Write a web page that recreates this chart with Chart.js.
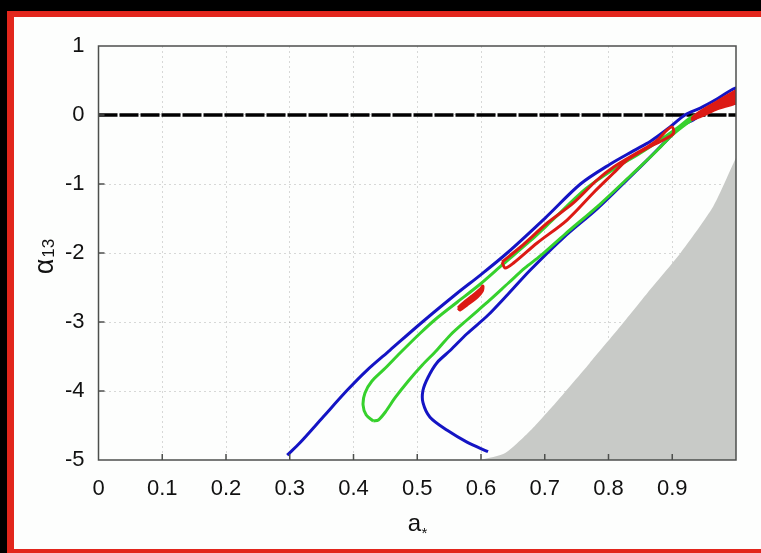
<!DOCTYPE html>
<html><head><meta charset="utf-8">
<script src="https://cdn.jsdelivr.net/npm/chart.js@4.4.1/dist/chart.umd.min.js"></script>
<style>html,body{margin:0;padding:0;background:#fdfefd;overflow:hidden}canvas{display:block}</style>
</head><body>
<canvas id="c" width="761" height="553"></canvas>
<script>
const xTickLabels = ['0','0.1','0.2','0.3','0.4','0.5','0.6','0.7','0.8','0.9',''];
const yTickLabels = ['-5','-4','-3','-2','-1','0','1'];
const xTitleMain = 'a', xTitleSub = '*';
const yTitleMain = '\u03B1', yTitleSub = '13';

const zeroLine = [[0,0],[1,0]];
const grayEdge = [[0.600,-5.00],[0.638,-4.90],[0.680,-4.55],[0.721,-4.13],[0.770,-3.60],[0.818,-3.07],[0.861,-2.58],[0.913,-2.00],[0.964,-1.33],[0.996,-0.70],[1.000,-0.62]];
const blueContour = [
 [0.296,-4.93],[0.316,-4.75],[0.352,-4.38],[0.390,-3.99],[0.421,-3.70],[0.457,-3.41],[0.508,-3.00],
 [0.563,-2.58],[0.599,-2.32],[0.641,-2.00],[0.701,-1.49],[0.756,-1.00],[0.803,-0.71],[0.839,-0.52],
 [0.866,-0.38],[0.893,-0.20],[0.920,0.00],[0.944,0.10],[0.968,0.22],[0.999,0.39],[1.03,0.45],
 [1.03,0.20],[0.999,0.17],[0.964,0.10],[0.933,-0.07],[0.913,-0.17],[0.892,-0.36],[0.861,-0.65],
 [0.829,-0.94],[0.782,-1.36],[0.729,-1.78],[0.677,-2.25],[0.643,-2.59],[0.610,-2.91],[0.578,-3.17],
 [0.552,-3.41],[0.531,-3.59],[0.517,-3.80],[0.509,-3.99],[0.509,-4.17],[0.520,-4.38],[0.547,-4.57],
 [0.578,-4.74],[0.611,-4.88]];
const greenContour = [
 [0.431,-4.435],[0.420,-4.348],[0.415,-4.203],[0.418,-4.029],[0.429,-3.855],[0.450,-3.667],[0.473,-3.449],
 [0.505,-3.159],[0.531,-2.942],[0.563,-2.710],[0.599,-2.449],[0.635,-2.159],[0.677,-1.826],[0.709,-1.551],
 [0.764,-1.072],[0.811,-0.768],[0.850,-0.551],[0.881,-0.362],[0.908,-0.188],[0.928,-0.043],[0.952,0.072],
 [0.975,0.188],[1.01,0.333],[1.01,0.232],[0.972,0.130],[0.947,0.043],[0.928,-0.087],[0.902,-0.275],
 [0.869,-0.580],[0.834,-0.884],[0.787,-1.290],[0.732,-1.725],[0.693,-2.043],[0.669,-2.217],[0.643,-2.435],
 [0.614,-2.681],[0.578,-2.971],[0.552,-3.188],[0.531,-3.406],[0.508,-3.623],[0.486,-3.855],[0.465,-4.101],
 [0.450,-4.304],[0.439,-4.420],[0.431,-4.435]];
const redLoop = [
 [0.633,-2.130],[0.662,-1.913],[0.704,-1.565],[0.745,-1.275],[0.782,-0.942],[0.808,-0.754],[0.839,-0.580],
 [0.861,-0.464],[0.877,-0.362],[0.892,-0.217],[0.900,-0.174],[0.902,-0.261],[0.892,-0.333],[0.870,-0.435],
 [0.850,-0.536],[0.829,-0.652],[0.808,-0.841],[0.776,-1.130],[0.735,-1.522],[0.688,-1.855],[0.651,-2.145],
 [0.638,-2.217],[0.633,-2.130]];
const redBlob = [
 [0.564,-2.797],[0.572,-2.725],[0.586,-2.623],[0.599,-2.522],[0.603,-2.478],[0.602,-2.551],[0.594,-2.638],
 [0.578,-2.754],[0.567,-2.826],[0.564,-2.797]];
const redTip = [
 [0.931,-0.029],[0.944,0.058],[0.968,0.188],[1.01,0.391],[1.01,0.217],[0.968,0.072],[0.944,-0.029],
 [0.931,-0.072],[0.931,-0.029]];

const pts = a => a.map(([x,y]) => ({x,y}));
const FONT = "'Liberation Sans', Arial, Helvetica, sans-serif";

const framePlugin = {
  id: 'frame',
  beforeDraw(chart) {
    const ctx = chart.ctx, W = chart.canvas.width, H = chart.canvas.height;
    ctx.save();
    ctx.fillStyle = '#000'; ctx.fillRect(0, 0, W, H);
    ctx.fillStyle = '#e2261c'; ctx.fillRect(7, 11, W - 7, H - 11);
    ctx.fillStyle = '#fdfefd'; ctx.fillRect(14, 17, W, H - 17 - 4);
    ctx.restore();
  },
  afterDatasetsDraw(chart) {
    const ctx = chart.ctx, a = chart.chartArea;
    const xs = chart.scales.x, ys = chart.scales.y;
    ctx.save();
    ctx.strokeStyle = '#4d4f4d'; ctx.lineWidth = 1.5;
    ctx.beginPath();
    xs.ticks.forEach(t => {
      if (t.value <= 0.001 || t.value >= 0.999) return;
      const px = xs.getPixelForValue(t.value);
      ctx.moveTo(px, a.bottom); ctx.lineTo(px, a.bottom - 6);
    });
    ys.ticks.forEach(t => {
      if (t.value <= -4.999 || t.value >= 0.999) return;
      const py = ys.getPixelForValue(t.value);
      ctx.moveTo(a.left, py); ctx.lineTo(a.left + 6, py);
    });
    ctx.stroke();
    ctx.strokeRect(a.left, a.top, a.right - a.left, a.bottom - a.top);
    ctx.restore();
  },
  afterDraw(chart) {
    const ctx = chart.ctx, a = chart.chartArea;
    ctx.save();
    ctx.fillStyle = '#111';
    ctx.textBaseline = 'alphabetic';
    // x title: "a" with small low asterisk
    ctx.font = '24px ' + FONT;
    const wa = ctx.measureText(xTitleMain).width;
    ctx.font = '15px ' + FONT;
    const ws = ctx.measureText(xTitleSub).width;
    const cx = (a.left + a.right) / 2;
    const x0 = cx - (wa + ws) / 2;
    ctx.font = '24px ' + FONT;
    ctx.fillText(xTitleMain, x0, 531);
    ctx.font = '15px ' + FONT;
    ctx.fillText(xTitleSub, x0 + wa + 0.5, 538);
    // y title: alpha with subscript 13, rotated
    ctx.translate(53, (a.top + a.bottom) / 2);
    ctx.rotate(-Math.PI / 2);
    ctx.font = '27px ' + FONT;
    const wal = ctx.measureText(yTitleMain).width;
    ctx.font = '17px ' + FONT;
    const w13 = ctx.measureText(yTitleSub).width;
    const t0 = -(wal + w13) / 2 - 4;
    ctx.font = '27px ' + FONT;
    ctx.fillText(yTitleMain, t0, 0);
    ctx.font = '17px ' + FONT;
    ctx.fillText(yTitleSub, t0 + wal + 1, 1);
    ctx.restore();
  }
};

const gridColor = edgeVals => (c) => {
  const v = c.tick ? c.tick.value : null;
  if (v === null) return 'rgba(0,0,0,0)';
  if (edgeVals.some(e => Math.abs(e - v) < 1e-6)) return 'rgba(0,0,0,0)';
  return 'rgba(0,0,0,0.15)';
};

const line = (data, color, extra) => Object.assign({
  data: pts(data), showLine: true, borderColor: color, borderWidth: 3,
  pointRadius: 0, tension: 0.3, fill: false, clip: 0
}, extra || {});

new Chart(document.getElementById('c'), {
  type: 'scatter',
  data: {
    datasets: [
      line(redTip, '#dc1a14', {fill: 'shape', backgroundColor: '#dc1a14', borderWidth: 2}),
      line(redBlob, '#dc1a14', {fill: 'shape', backgroundColor: '#dc1a14'}),
      line(redLoop, '#dc1a14'),
      line(greenContour, '#36d12c'),
      line(blueContour, '#1414c4'),
      line(zeroLine, '#000000', {borderWidth: 3.6, borderDash: [19, 2], tension: 0}),
      line(grayEdge, 'rgba(0,0,0,0)', {borderWidth: 0, fill: 'start', backgroundColor: '#c8cac7', tension: 0.2})
    ]
  },
  options: {
    responsive: false,
    animation: false,
    devicePixelRatio: 1,
    layout: {padding: {left: 0, top: 46, right: 25, bottom: 0}},
    plugins: {
      legend: {display: false},
      tooltip: {enabled: false},
      filler: {drawTime: 'beforeDatasetDraw'}
    },
    scales: {
      x: {
        type: 'linear', min: 0, max: 1,
        afterFit: s => { s.height = 93; },
        grid: {drawTicks: false, color: gridColor([0, 1]), lineWidth: 1},
        border: {display: false, dash: [2, 3]},
        ticks: {stepSize: 0.1, padding: 16, color: '#111', maxRotation: 0, autoSkip: false,
          font: {family: FONT, size: 22},
          callback: (v, i) => xTickLabels[i]},
        title: {display: false}
      },
      y: {
        type: 'linear', min: -5, max: 1,
        afterFit: s => { s.width = 98.5; },
        grid: {drawTicks: false, color: gridColor([-5, 1]), lineWidth: 1},
        border: {display: false, dash: [2, 3]},
        ticks: {stepSize: 1, padding: 14, color: '#111', autoSkip: false,
          font: {family: FONT, size: 22},
          callback: (v, i) => yTickLabels[i]},
        title: {display: false}
      }
    }
  },
  plugins: [framePlugin]
});
</script>
</body></html>
